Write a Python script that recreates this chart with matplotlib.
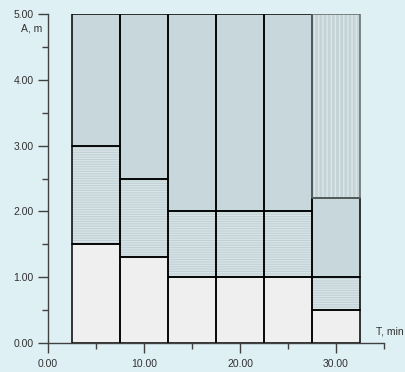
import matplotlib
matplotlib.use('Agg')
import matplotlib.pyplot as plt
from matplotlib.ticker import MultipleLocator, FormatStrFormatter

### Data: bar centres (T, min) and layer boundaries (A, m)
t_centre = [5, 10, 15, 20, 25, 30]
bar_width = 5
layer1_top = [1.5, 1.3, 1.0, 1.0, 1.0, 0.5]
layer2_top = [3.0, 2.5, 2.0, 2.0, 2.0, 1.0]
layer3_top = [5.0, 5.0, 5.0, 5.0, 5.0, 2.2]
layer4_top = [5.0, 5.0, 5.0, 5.0, 5.0, 5.0]

bg = '#dff0f5'
plt.rcParams['font.family'] = ['Liberation Sans', 'DejaVu Sans']
plt.rcParams['hatch.linewidth'] = 1.0

fig = plt.figure(figsize=(4.05, 3.72), dpi=100, facecolor=bg)
ax = fig.add_axes([48/405, 29/372, 336/405, 329/372], facecolor=bg)

b1 = [0]*6
b2 = layer1_top
b3 = layer2_top
b4 = layer3_top
h1 = [t - b for t, b in zip(layer1_top, b1)]
h2 = [t - b for t, b in zip(layer2_top, b2)]
h3 = [t - b for t, b in zip(layer3_top, b3)]
h4 = [t - b for t, b in zip(layer4_top, b4)]

# fills
ax.bar(t_centre, h1, bar_width, bottom=b1, color='#efefef', linewidth=0)
plt.rcParams['hatch.color'] = '#d8e4e7'
ax.bar(t_centre, h2, bar_width, bottom=b2, color='#bfcfd3', hatch='-'*7,
       edgecolor='#d8e4e7', linewidth=0)
ax.bar(t_centre, h3, bar_width, bottom=b3, color='#c8d7db', linewidth=0)
ax.bar(t_centre, h4, bar_width, bottom=b4, color='#c4d3d7', hatch='|'*4,
       edgecolor='#dce7ea', linewidth=0)

# outlines
for h, b in [(h1, b1), (h2, b2), (h3, b3)]:
    ax.bar(t_centre, h, bar_width, bottom=b, fill=False, edgecolor='black', linewidth=1.1)
ax.bar(t_centre[5], h4[5], bar_width, bottom=b4[5], fill=False, edgecolor='#606868', linewidth=1.1)

ax.set_xlim(0, 35)
ax.set_ylim(0, 5)
ax.spines['top'].set_visible(False)
ax.spines['right'].set_visible(False)
for s in ('left', 'bottom'):
    ax.spines[s].set_color('#404040')
    ax.spines[s].set_linewidth(1.0)

ax.xaxis.set_major_locator(MultipleLocator(10))
ax.xaxis.set_minor_locator(MultipleLocator(5))
ax.yaxis.set_major_locator(MultipleLocator(1))
ax.yaxis.set_minor_locator(MultipleLocator(0.5))
ax.xaxis.set_major_formatter(FormatStrFormatter('%.2f'))
ax.yaxis.set_major_formatter(FormatStrFormatter('%.2f'))
ax.tick_params(which='major', direction='out', length=7.5, width=1.0, color='#404040',
               labelsize=7.5, labelcolor='#303030')
ax.tick_params(which='minor', direction='out', length=4, width=1.0, color='#404040')
ax.tick_params(axis='x', pad=4)
ax.tick_params(axis='y', pad=3)

ax.text(-0.6, 4.78, 'A, m', ha='right', va='center', fontsize=7.5, color='#303030')
ax.text(37.0, 0.17, 'T, min', ha='right', va='center', fontsize=7.5, color='#303030')

fig.savefig('out.png', dpi=100, facecolor=bg)
